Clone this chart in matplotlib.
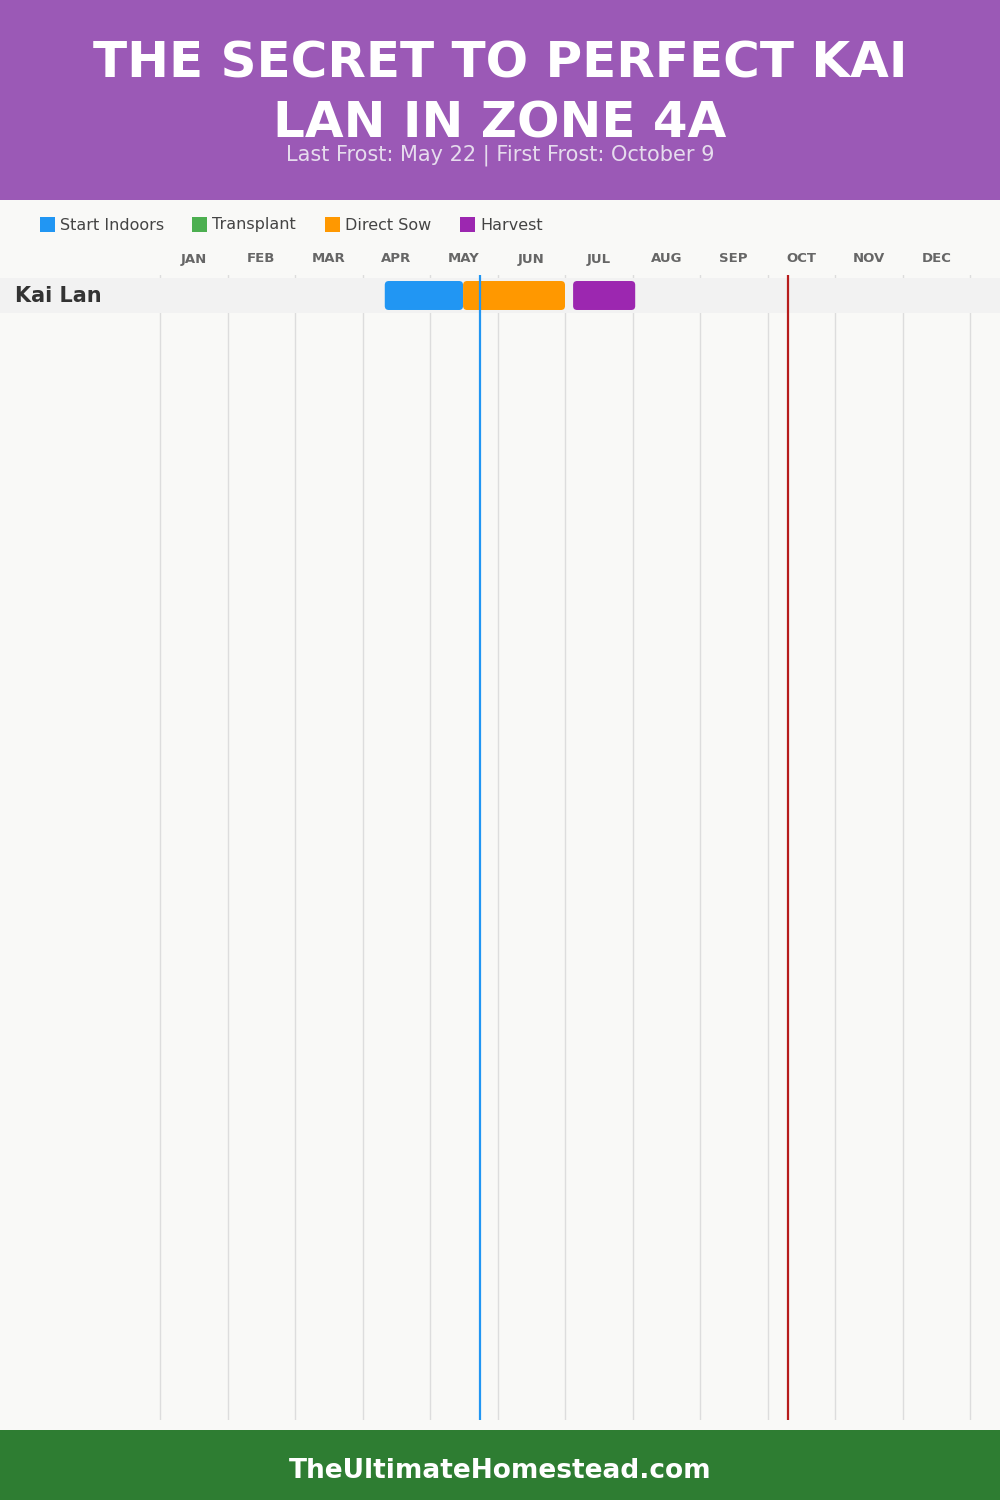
import matplotlib
matplotlib.use("Agg")
import matplotlib.pyplot as plt
from matplotlib.patches import FancyBboxPatch, Rectangle

# data (positions in months, 0 = Jan 1, 12 = Dec 31)
months = ["JAN", "FEB", "MAR", "APR", "MAY", "JUN", "JUL", "AUG", "SEP", "OCT", "NOV", "DEC"]
crops = ["Kai Lan"]
start_indoors = [(3.33, 4.49)]
direct_sow = [(4.49, 6.0)]
harvest = [(6.12, 7.04)]
last_frost = 4.74   # May 22
first_frost = 9.30  # Oct 9
legend_names = ["Start Indoors", "Transplant", "Direct Sow", "Harvest"]
legend_colors = ["#2196f3", "#4caf50", "#ff9800", "#9c27b0"]

W, H = 1000, 1500
fig = plt.figure(figsize=(10, 15), dpi=100)
fig.patch.set_facecolor("#f9f9f7")

def fx(px):
    return px / W

def fy(py):
    return 1 - py / H

# header and footer
fig.patches.append(Rectangle((0, fy(200)), 1, 200 / H, transform=fig.transFigure,
                             facecolor="#9b59b6", edgecolor="none", zorder=0))
fig.patches.append(Rectangle((0, 0), 1, 70 / H, transform=fig.transFigure,
                             facecolor="#2e7d32", edgecolor="none", zorder=0))
fig.text(0.5, fy(64), "THE SECRET TO PERFECT KAI", ha="center", va="center",
         color="white", fontsize=36, fontweight="heavy", family="DejaVu Sans")
fig.text(0.5, fy(124), "LAN IN ZONE 4A", ha="center", va="center",
         color="white", fontsize=36, fontweight="heavy", family="DejaVu Sans")
fig.text(0.5, fy(155), "Last Frost: May 22 | First Frost: October 9", ha="center", va="center",
         color="#e6dced", fontsize=15, family="DejaVu Sans")
fig.text(0.5, fy(1471), "TheUltimateHomestead.com", ha="center", va="center",
         color="white", fontsize=19, fontweight="bold", family="DejaVu Sans")

# legend
leg_x = [40, 192, 325, 460]
for x, name, c in zip(leg_x, legend_names, legend_colors):
    fig.patches.append(Rectangle((fx(x), fy(232)), 15 / W, 15 / H, transform=fig.transFigure,
                                 facecolor=c, edgecolor="none"))
    fig.text(fx(x + 20), fy(225), name, ha="left", va="center", color="#444444",
             fontsize=11.5, family="DejaVu Sans")

# chart axes: x in months (67.5 px per month, Jan starts at px 160), y in rows (35 px per row)
ax = fig.add_axes([0, fy(1420), 1, (1420 - 275) / H])
ax.set_facecolor("none")
pxm = 67.5
ax.set_xlim(-160 / pxm, 12 + 30 / pxm)
ax.set_ylim(0.5 + (1420 - 313) / 35, -0.5 - 3 / 35)
ax.axis("off")

for m in range(13):
    ax.axvline(m, color="#dddddd", lw=1, zorder=1)
for i, m in enumerate(months):
    ax.text(i + 0.5, -0.5 - 19 / 35, m, ha="center", va="center", color="#666666",
            fontsize=9.5, fontweight="bold", family="DejaVu Sans", clip_on=False)

for r, crop in enumerate(crops):
    ax.add_patch(Rectangle((ax.get_xlim()[0], r - 0.5), ax.get_xlim()[1] - ax.get_xlim()[0], 1,
                           facecolor="#f2f2f2", edgecolor="none", zorder=2))
    ax.text(-145 / pxm, r, crop, ha="left", va="center", color="#333333",
            fontsize=15, fontweight="bold", family="DejaVu Sans")
    for spans, c in [(start_indoors, legend_colors[0]), (direct_sow, legend_colors[2]),
                     (harvest, legend_colors[3])]:
        a, b = spans[r]
        ax.add_patch(FancyBboxPatch((a, r - 0.414), b - a, 0.828,
                                    boxstyle="round,pad=0,rounding_size=0.06",
                                    mutation_aspect=pxm / 35, facecolor=c,
                                    edgecolor="none", zorder=3))

ax.axvline(last_frost, color="#2196f3", lw=1.6, zorder=4)
ax.axvline(first_frost, color="#b71c1c", lw=1.6, zorder=4)

fig.savefig("out.png", dpi=100, facecolor=fig.get_facecolor())
